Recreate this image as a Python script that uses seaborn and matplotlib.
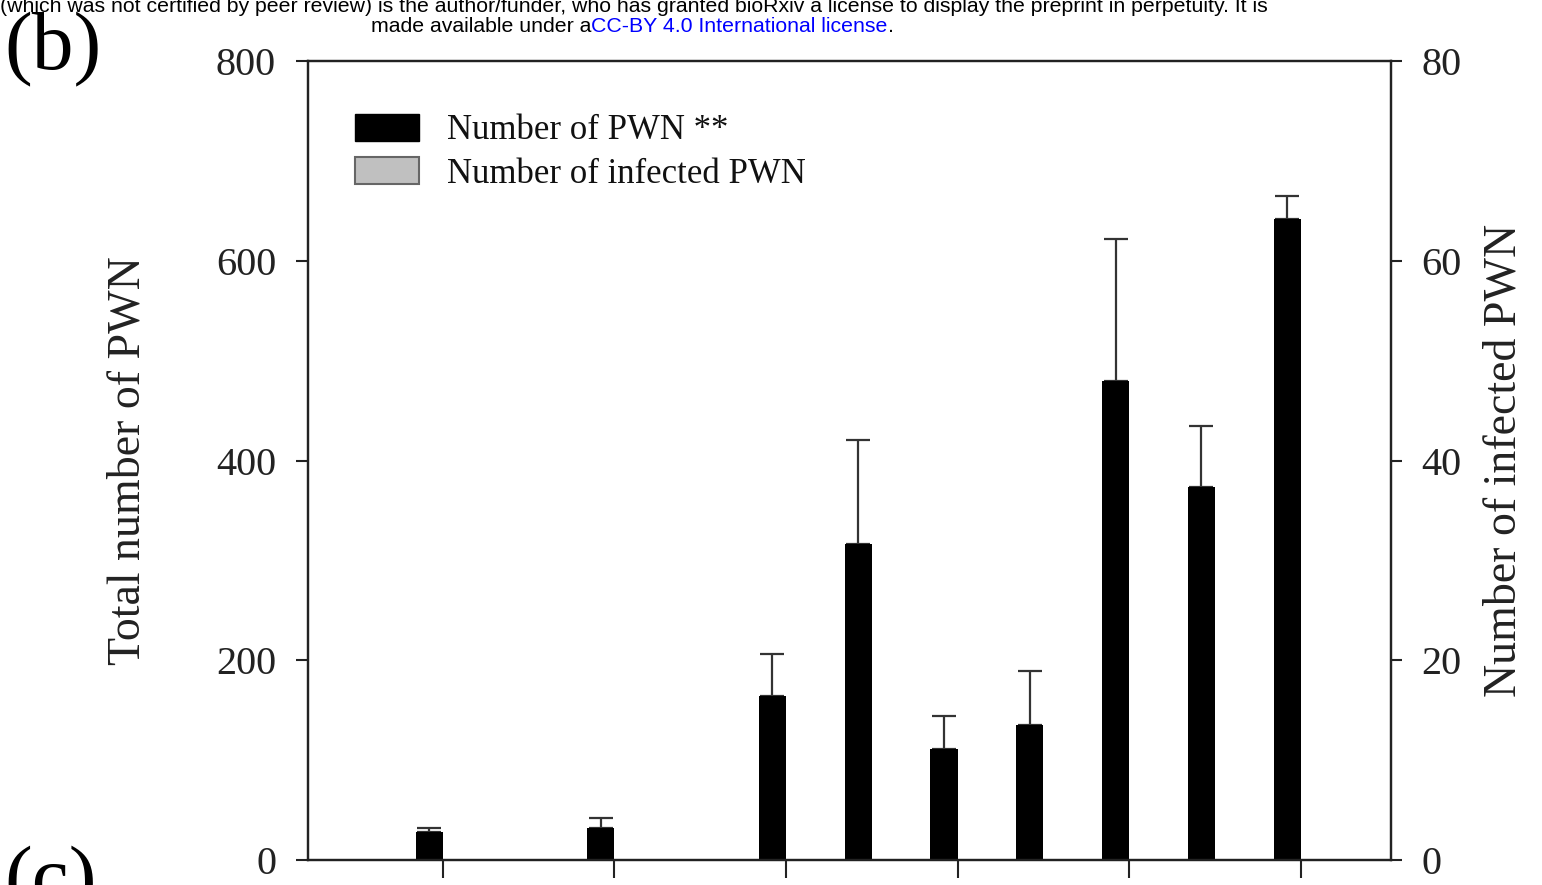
import numpy as np
import pandas as pd
import matplotlib
matplotlib.use("Agg")
import matplotlib.pyplot as plt
from matplotlib.patches import Patch
import seaborn as sns

# ---------------- data ----------------
time_points = [0, 2, 4, 5, 6, 7, 8, 9, 10]
pwn_mean = [28, 32, 164, 316, 111, 135, 480, 373, 642]
pwn_err = [4, 10, 42, 105, 33, 54, 142, 62, 23]
infected_mean = [0, 0, 0, 0, 0, 0, 0, 0, 0]
series_names = ["Number of PWN **", "Number of infected PWN"]
x_ticks = [0, 2, 4, 6, 8, 10]
left_ticks = [0, 200, 400, 600, 800]
right_ticks = [0, 20, 40, 60, 80]
left_label = "Total number of PWN"
right_label = "Number of infected PWN"

# ---------------- style ----------------
sns.set_style("ticks")
plt.rcParams["font.family"] = ["Liberation Serif", "DejaVu Serif"]
dark = "#222222"

fig = plt.figure(figsize=(15.42, 8.85), dpi=100)
ax = fig.add_axes([308 / 1542, 1 - 860 / 885, (1391 - 308) / 1542, (860 - 61) / 885])

df = pd.DataFrame({
    "time": time_points + time_points,
    "value": pwn_mean + infected_mean,
    "series": [series_names[0]] * len(time_points) + [series_names[1]] * len(time_points),
})

sns.barplot(data=df, x="time", y="value", hue="series", hue_order=series_names,
            native_scale=True, width=0.63, palette=["black", "#c0c0c0"],
            saturation=1, errorbar=None, legend=False, linewidth=0, ax=ax)

# error bars (upper only) at the centre of the black bars
black_bars = sorted(ax.patches[:len(time_points)], key=lambda p: p.get_x())
centers = [p.get_x() + p.get_width() / 2 for p in black_bars]
ax.errorbar(centers, pwn_mean, yerr=[np.zeros(len(pwn_err)), pwn_err], fmt="none",
            ecolor="#333333", elinewidth=1.6, capsize=8.5, capthick=1.6, zorder=0.5)

ax.set_xlim(-1.574, 11.055)
ax.set_ylim(0, 800)
ax.set_xticks(x_ticks)
ax.set_xticklabels([])
ax.set_yticks(left_ticks)
ax.set_xlabel("")
ax.set_ylabel(left_label, fontsize=33, color=dark, labelpad=48)
ax.tick_params(axis="y", direction="out", length=9, width=1.5, color=dark,
               labelsize=29, labelcolor=dark, pad=14)
ax.tick_params(axis="x", direction="out", length=13, width=1.5, color=dark)
for s in ax.spines.values():
    s.set_visible(True)
    s.set_linewidth(1.6)
    s.set_color(dark)

ax2 = ax.twinx()
ax2.set_ylim(0, 80)
ax2.set_yticks(right_ticks)
ax2.tick_params(axis="y", direction="out", length=8, width=1.5, color=dark,
                labelsize=29, labelcolor=dark, pad=14)
ax2.set_ylabel(right_label, fontsize=33, color=dark, labelpad=15)
for s in ax2.spines.values():
    s.set_linewidth(1.6)
    s.set_color(dark)

handles = [Patch(facecolor="black", edgecolor="black"),
           Patch(facecolor="#c0c0c0", edgecolor="#666666", linewidth=1.5)]
ax.legend(handles, series_names, loc="upper left", bbox_to_anchor=(0.0304, 0.951),
          frameon=False, fontsize=25, handlelength=1.85, handleheight=0.8,
          handletextpad=0.8, labelspacing=0.29, borderaxespad=0,
          labelcolor="#111111")

# ---------------- page texts ----------------
hdr = 15.3
fig.text(0.0, 1.0 + 3 / 885, "(which was not certified by peer review) is the author/funder, who has granted bioRxiv a license to display the preprint in perpetuity. It is",
         family="Liberation Sans", fontsize=hdr, va="top", ha="left", color="black")
fig.canvas.draw()
r = fig.canvas.get_renderer()
y2 = 1 - 17 / 885
t1 = fig.text(371 / 1542, y2, "made available under a", family="Liberation Sans",
              fontsize=hdr, va="top", ha="left", color="black")
bb = t1.get_window_extent(r)
t2 = fig.text(bb.x1 / 1542, y2, "CC-BY 4.0 International license", family="Liberation Sans",
              fontsize=hdr, va="top", ha="left", color="#0000ff")
bb2 = t2.get_window_extent(r)
fig.text(bb2.x1 / 1542, y2, ".", family="Liberation Sans",
         fontsize=hdr, va="top", ha="left", color="black")

fig.text(4 / 1542, 1 - 12 / 885, "(b)", fontsize=60, va="top", ha="left", color="black")
fig.text(4 / 1542, 1 - 846 / 885, "(c)", fontsize=60, va="top", ha="left", color="black")

fig.savefig("out.png", dpi=100)
